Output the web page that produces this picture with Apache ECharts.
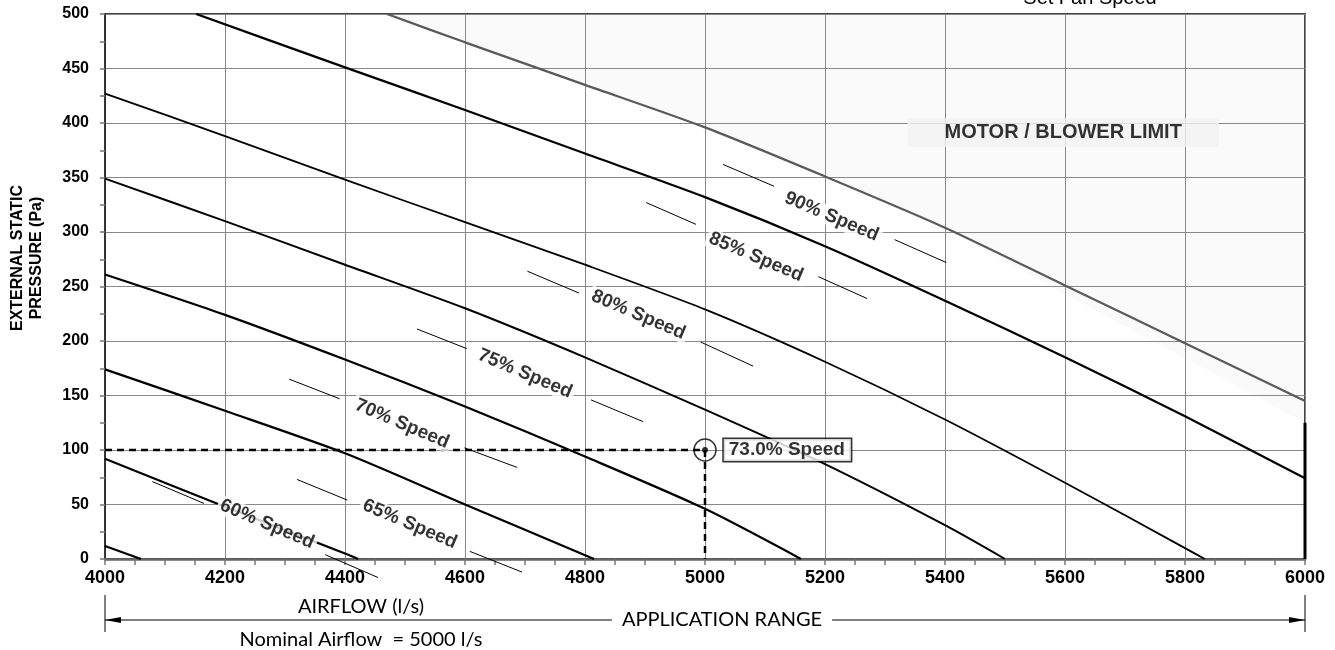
<!DOCTYPE html>
<html>
<head>
<meta charset="utf-8">
<script src="https://cdn.jsdelivr.net/npm/echarts@6.0.0/dist/echarts.min.js"></script>
<style>
html,body{margin:0;padding:0;background:#ffffff;}
#chart{width:1335px;height:650px;}
</style>
</head>
<body>
<div id="chart"></div>
<script>
// ---------------- data ----------------
const xMin = 4000, xMax = 6000, xStep = 200;
const yMin = 0, yMax = 500, yStep = 50;

const speed55 = [[4000,12],[4060,0]];
const speed60 = [[4000,92],[4200,48],[4400,5],[4422,0]];
const speed65 = [[4000,174],[4200,136],[4400,97],[4600,50],[4815,0]];
const speed70 = [[4000,261],[4200,224],[4400,183],[4600,140],[4800,94],[5000,46],[5160,0]];
const speed75 = [[4000,349],[4200,310],[4400,270],[4600,230],[4800,185],[5000,137],[5200,87],[5400,31],[5500,0]];
const speed80 = [[4000,427],[4200,388],[4400,348],[4600,309],[4800,270],[5000,229],[5200,181],[5400,128],[5600,70],[5800,10],[5833,0]];
const speed85 = [[4152,500],[4400,451],[4600,412],[4800,372],[5000,332],[5200,287],[5400,237],[5600,185],[5800,131],[6000,74]];
const speed90 = [[4470,500],[4600,474],[4800,435],[5000,396],[5200,351],[5400,304],[5600,251],[5800,198],[6000,145]];
const limitShade = [[4470,500],[4800,435],[5000,396],[5200,351],[5400,304],[5555,256],[5800,184],[6000,125]];
const rightEdgeBar = [[6000,0],[6000,125]];

const curveLabelText = ['60% Speed','65% Speed','70% Speed','75% Speed','80% Speed','85% Speed','90% Speed'];
const curveLabelPos = [[4270,32],[4508,32],[4495,124],[4700,170],[4889,224],[5085,277],[5211,314]];
const curveLabelLeaders = [
  [[4079,71],[4165,51]], [[4367,4],[4455,-17]],
  [[4320,73],[4404,54]], [[4608,7],[4695,-12]],
  [[4307,165],[4391,147]], [[4599,102],[4687,84]],
  [[4520,211],[4603,193]], [[4810,146],[4897,126]],
  [[4704,264],[4790,244]], [[4993,199],[5080,177]],
  [[4902,327],[4985,307]], [[5189,259],[5270,239]],
  [[5030,362],[5115,342]], [[5316,293],[5402,272]]
];

const operatingPoint = [5000,100];
const operatingLabel = '73.0% Speed';
const limitLabelPos = [5597,391];
const limitLabelText = 'MOTOR / BLOWER LIMIT';
const appRange = [4000,6000];
// ----------------------------------------------------------------

const FONT = '"Liberation Sans", Arial, Helvetica, sans-serif';
const chart = echarts.init(document.getElementById('chart'), null, {renderer:'canvas'});

function curve(data, color, width){
  return {type:'line', data:data, symbol:'none', smooth:0.25, z:3, silent:true,
    lineStyle:{color:color, width:width}, clip:true};
}

const guide = [[xMin, operatingPoint[1]], operatingPoint, [operatingPoint[0], yMin]];
const noBorder = {textBorderWidth:0, textBorderColor:'transparent', textShadowBlur:0};

const option = {
  animation:false,
  backgroundColor:'#ffffff',
  grid:{left:105, right:30, top:14, bottom:91, show:true, borderColor:'#444', borderWidth:2, backgroundColor:'transparent'},
  xAxis:{type:'value', min:xMin, max:xMax, interval:xStep,
    axisLine:{show:true, onZero:false, lineStyle:{color:'#666', width:2.5}},
    axisTick:{show:true, inside:false, length:6, lineStyle:{color:'#777', width:1.5}},
    minorTick:{show:true, splitNumber:4, length:6, lineStyle:{color:'#777', width:1.5}},
    splitLine:{show:true, lineStyle:{color:'#888', width:1}},
    axisLabel:Object.assign({color:'#000', fontFamily:FONT, fontWeight:'bold', fontSize:18, margin:10,
      formatter:function(v){return String(v);}}, noBorder)
  },
  yAxis:{type:'value', min:yMin, max:yMax, interval:yStep,
    axisLine:{show:true, onZero:false, lineStyle:{color:'#333', width:2}},
    axisTick:{show:true, inside:false, length:5, lineStyle:{color:'#777', width:1.5}},
    minorTick:{show:true, splitNumber:2, length:5, lineStyle:{color:'#777', width:1.5}},
    splitLine:{show:true, lineStyle:{color:'#888', width:1}},
    axisLabel:Object.assign({color:'#000', fontFamily:FONT, fontWeight:'bold', fontSize:16, margin:16,
      formatter:function(v){return String(v);}}, noBorder)
  },
  series:[
    {type:'custom', z:-1, silent:true, clip:true, data:[[5000,250]],
      renderItem:function(params, api){
        const pts = limitShade.map(p=>api.coord(p));
        pts.push(api.coord([xMax, yMax]));
        return {type:'polygon', shape:{points:pts}, style:{fill:'#fafafa'}};
      }},
    curve(speed55,'#000',2.2),
    curve(speed60,'#000',2.2),
    curve(speed65,'#000',2.2),
    curve(speed70,'#000',2.2),
    curve(speed75,'#000',2),
    curve(speed80,'#000',1.8),
    curve(speed85,'#000',2.2),
    curve(speed90,'#5a5a5a',2.2),
    curve(rightEdgeBar,'#000',3),
    {type:'line', data:guide, symbol:'none', z:4, silent:true,
      lineStyle:{color:'#000', width:2.5, type:[7,5]}},
    {type:'lines', coordinateSystem:'cartesian2d', clip:false, z:4, silent:true,
      data:curveLabelLeaders.map(s=>({coords:s})),
      lineStyle:{color:'#000', width:1, opacity:1}},
    {type:'scatter', z:6, silent:true, symbolSize:0,
      data:curveLabelPos.map((p,i)=>({value:p, name:curveLabelText[i]})),
      label:Object.assign({show:true, position:'inside', formatter:'{b}', rotate:-23,
        color:'#000', fontFamily:FONT, fontWeight:'bold', fontSize:19,
        backgroundColor:'#ffffff', padding:[0,3]}, noBorder)},
    {type:'scatter', z:7, silent:true, symbol:'circle', symbolSize:22,
      itemStyle:{color:'rgba(0,0,0,0)', borderColor:'#000', borderWidth:1.5},
      data:[{value:operatingPoint, name:operatingLabel}],
      label:Object.assign({show:true, position:'right', distance:7, formatter:'{b}',
        color:'#000', fontFamily:FONT, fontWeight:'bold', fontSize:19,
        backgroundColor:'#ffffff', borderColor:'#000', borderWidth:1.5, padding:[2,6,1,5]}, noBorder)},
    {type:'scatter', z:8, silent:true, symbol:'circle', symbolSize:6,
      itemStyle:{color:'#000'}, data:[operatingPoint]},
    {type:'scatter', z:6, silent:true, symbolSize:0,
      data:[{value:limitLabelPos, name:limitLabelText}],
      label:Object.assign({show:true, position:'inside', formatter:'{b}',
        color:'#000', fontFamily:FONT, fontWeight:'bold', fontSize:20,
        backgroundColor:'#f2f2f2', padding:[5,37,4,37]}, noBorder)}
  ]
};
chart.setOption(option);

// annotations positioned through the chart's own scales
const pL = chart.convertToPixel({gridIndex:0}, [appRange[0], 0]);
const pR = chart.convertToPixel({gridIndex:0}, [appRange[1], 0]);
const lineY = 620;
const LFONT = 'Lato, "Open Sans", sans-serif';
chart.setOption({
  graphic:[
    {type:'text', x:27, y:258, rotation:Math.PI/2, silent:true,
      style:{text:'EXTERNAL STATIC\nPRESSURE (Pa)', align:'center', verticalAlign:'middle',
        font:'bold 16px ' + FONT, fill:'#000', lineHeight:19}},
    {type:'text', x:1090, y:8, silent:true,
      style:{text:'Set Fan Speed', align:'center', verticalAlign:'bottom', font:'20px ' + FONT, fill:'#000'}},
    {type:'line', silent:true, shape:{x1:pL[0], y1:595, x2:pL[0], y2:632}, style:{stroke:'#000', lineWidth:1}},
    {type:'line', silent:true, shape:{x1:pR[0], y1:595, x2:pR[0], y2:632}, style:{stroke:'#000', lineWidth:1}},
    {type:'line', silent:true, shape:{x1:pL[0], y1:lineY, x2:pR[0], y2:lineY}, style:{stroke:'#000', lineWidth:1}},
    {type:'polygon', silent:true, shape:{points:[[pL[0],lineY],[pL[0]+16,lineY-3],[pL[0]+16,lineY+3]]}, style:{fill:'#000'}},
    {type:'polygon', silent:true, shape:{points:[[pR[0],lineY],[pR[0]-16,lineY-3],[pR[0]-16,lineY+3]]}, style:{fill:'#000'}},
    {type:'text', x:722, y:lineY, silent:true,
      style:{text:'APPLICATION RANGE', align:'center', verticalAlign:'middle', font:'20px ' + LFONT, fill:'#000',
        backgroundColor:'#ffffff', padding:[0,10]}},
    {type:'text', x:361, y:607, silent:true,
      style:{text:'AIRFLOW (l/s)', align:'center', verticalAlign:'middle', font:'20px ' + LFONT, fill:'#000'}},
    {type:'text', x:361, y:640, silent:true,
      style:{text:'Nominal Airflow  = 5000 l/s', align:'center', verticalAlign:'middle', font:'20px ' + LFONT, fill:'#000'}}
  ]
});
</script>
</body>
</html>
